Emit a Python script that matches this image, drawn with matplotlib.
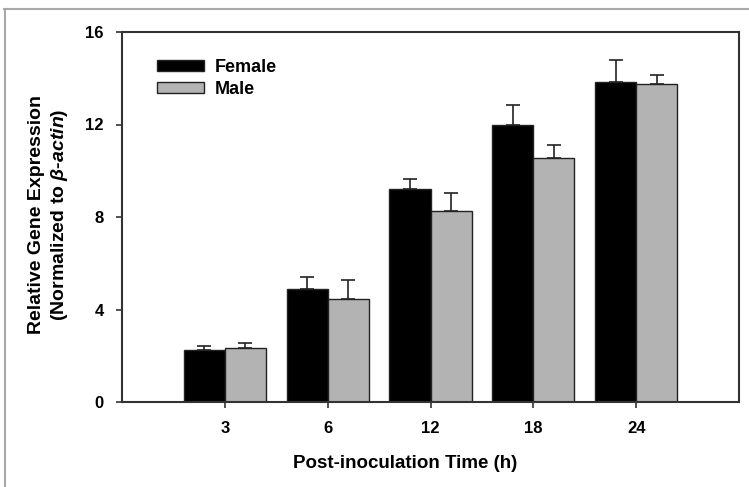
import matplotlib
matplotlib.use("Agg")
import matplotlib.pyplot as plt
import numpy as np
from matplotlib.lines import Line2D

plt.rcParams['font.family'] = ['Liberation Sans', 'DejaVu Sans']
plt.rcParams['mathtext.fontset'] = 'custom'
plt.rcParams['mathtext.bfit'] = 'Liberation Sans:italic:bold'
plt.rcParams['mathtext.it'] = 'Liberation Sans:italic:bold'
plt.rcParams['mathtext.rm'] = 'Liberation Sans:bold'
plt.rcParams['mathtext.bf'] = 'Liberation Sans:bold'

categories = ["3", "6", "12", "18", "24"]
female = [2.25, 4.87, 9.2, 11.98, 13.82]
female_err = [0.16, 0.54, 0.43, 0.85, 0.95]
male = [2.35, 4.45, 8.24, 10.56, 13.75]
male_err = [0.22, 0.82, 0.8, 0.55, 0.4]
yticks = [0, 4, 8, 12, 16]

fig = plt.figure(figsize=(7.49, 4.87), dpi=100)
W, H = 749, 487
ax = fig.add_axes([122 / W, 1 - 402 / H, (739 - 122) / W, (402 - 32) / H])

x = np.arange(len(categories))
w = 0.4
ax.bar(x - w / 2, female, w, color='black', edgecolor='#222222', linewidth=1, label='Female', zorder=2)
ax.bar(x + w / 2, male, w, color='#b3b3b3', edgecolor='#222222', linewidth=1, label='Male', zorder=2)
ax.errorbar(x - w / 2, female, yerr=[np.zeros(len(x)), female_err], fmt='none',
            ecolor='#222222', elinewidth=1.2, capsize=4.7, capthick=1.2, zorder=1)
ax.errorbar(x + w / 2, male, yerr=[np.zeros(len(x)), male_err], fmt='none',
            ecolor='#222222', elinewidth=1.2, capsize=4.7, capthick=1.2, zorder=1)

ax.set_xlim(-1, 5)
ax.set_ylim(0, 16)
ax.set_xticks(x)
ax.set_xticklabels(categories, fontsize=12, fontweight='bold')
ax.set_yticks(yticks)
ax.set_yticklabels([str(v) for v in yticks], fontsize=12, fontweight='bold')
ax.tick_params(direction='out', length=4, width=1.2, color='#333333')
ax.tick_params(axis='x', pad=10)
ax.tick_params(axis='y', pad=9)
for s in ax.spines.values():
    s.set_linewidth(1.5)
    s.set_color('#333333')

ax.set_xlabel('Post-inoculation Time (h)', fontsize=13.5, fontweight='bold')
ax.xaxis.set_label_coords((405 - 122) / (739 - 122), -(463 - 402) / (402 - 32), transform=ax.transAxes)
ax.xaxis.label.set_verticalalignment('center')

fig.text(37 / W, 1 - 215 / H, 'Relative Gene Expression', rotation=90, fontsize=14,
         fontweight='bold', ha='center', va='center')
fig.text(59 / W, 1 - 215 / H, r'(Normalized to $\mathbfit{\beta}$-$\mathbfit{actin}$)', rotation=90,
         fontsize=14, fontweight='bold', ha='center', va='center')

leg = ax.legend(loc='upper left', bbox_to_anchor=(35 / (739 - 122), 1 - 27 / 370), frameon=False,
                prop={'weight': 'bold', 'size': 13}, handlelength=2.6, handleheight=0.55,
                handletextpad=0.6, labelspacing=0.25, borderaxespad=0, borderpad=0)

fig.add_artist(Line2D([4 / W, 1], [1 - 9 / H, 1 - 9 / H], transform=fig.transFigure, color='#a8a8a8', lw=1.5))
fig.add_artist(Line2D([5 / W, 5 / W], [0, 1 - 9 / H], transform=fig.transFigure, color='#a8a8a8', lw=1.5))

fig.savefig('out.png', dpi=100)
